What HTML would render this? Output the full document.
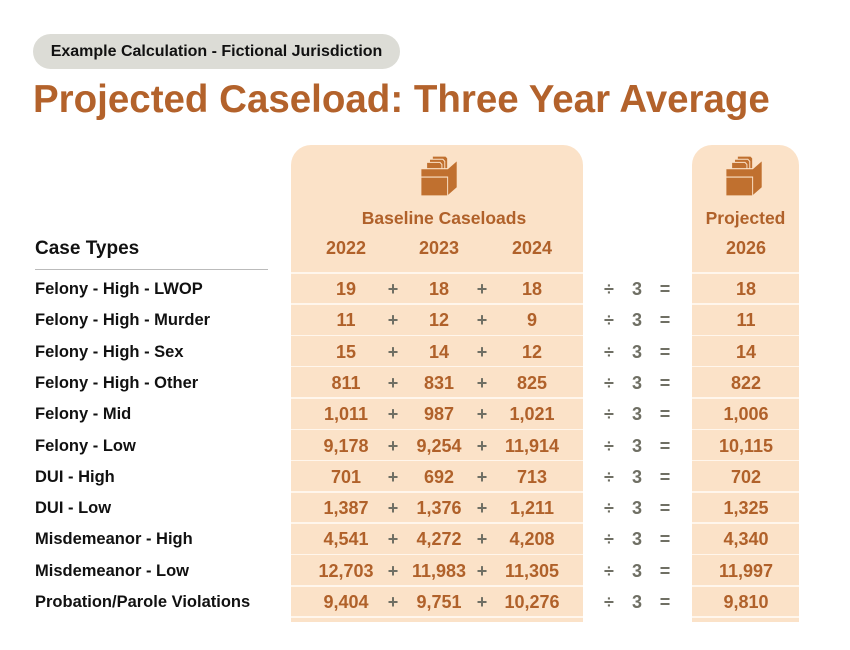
<!DOCTYPE html>
<html><head><meta charset="utf-8">
<style>
body{margin:0;width:850px;height:650px;background:#fff;position:relative;overflow:hidden;font-family:"Liberation Sans",Arial,sans-serif;}
.abs{position:absolute;}
.pill{left:33px;top:34px;width:367px;height:35px;background:#dcdcd6;border-radius:18px;font-weight:bold;font-size:16px;line-height:35px;text-align:center;color:#111;}
.title{left:33px;top:78px;font-size:38.5px;font-weight:bold;color:#b3622b;white-space:nowrap;}
.panel{background:#fbe2c8;border-radius:20px 20px 0 0;}
.hdr{color:#b0612a;font-weight:bold;font-size:17.5px;text-align:center;}
.lbl{left:35px;font-weight:bold;font-size:16.5px;color:#111;white-space:nowrap;}
.num{color:#b0612a;font-weight:bold;font-size:18px;text-align:center;width:100px;margin-left:-50px;}
.op{color:#6f6f64;font-weight:bold;font-size:18px;text-align:center;width:30px;margin-left:-15px;}
.sep{height:1.5px;background:#fff6ec;}
</style></head><body>
<div class="abs pill">Example Calculation - Fictional Jurisdiction</div>
<div class="abs title">Projected Caseload: Three Year Average</div>
<div class="abs panel" style="left:291px;top:145px;width:292px;height:477px"></div>
<div class="abs panel" style="left:692px;top:145px;width:107px;height:477px"></div>
<svg class="abs" style="left:419px;top:154px" width="42" height="44" viewBox="0 0 44 42" preserveAspectRatio="none">
<g fill="#c0702f" stroke="#fbe2c8" stroke-width="1"><path d="M14 2h14l2 2v14H14z"/><path d="M11 5h14l2 2v14H11z"/><path d="M8 8h14l2 2v14H8z"/><path d="M2 14h28l10-8v26l-10 8H2z"/><path d="M2 22h28v18H2z"/></g></svg>
<svg class="abs" style="left:724px;top:154px" width="42" height="44" viewBox="0 0 44 42" preserveAspectRatio="none">
<g fill="#c0702f" stroke="#fbe2c8" stroke-width="1"><path d="M14 2h14l2 2v14H14z"/><path d="M11 5h14l2 2v14H11z"/><path d="M8 8h14l2 2v14H8z"/><path d="M2 14h28l10-8v26l-10 8H2z"/><path d="M2 22h28v18H2z"/></g></svg>
<div class="abs hdr" style="left:291px;width:306px;top:208px">Baseline Caseloads</div>
<div class="abs hdr" style="left:692px;width:107px;top:208px">Projected</div>
<div class="abs lbl" style="top:238px;font-size:19px">Case Types</div>
<div class="abs" style="left:35px;top:269px;width:233px;height:1px;background:#bbb"></div>
<script>
const categories=["Felony - High - LWOP","Felony - High - Murder","Felony - High - Sex","Felony - High - Other","Felony - Mid","Felony - Low","DUI - High","DUI - Low","Misdemeanor - High","Misdemeanor - Low","Probation/Parole Violations"];
const years=["2022","2023","2024"];
const v2022=[19,11,15,811,1011,9178,701,1387,4541,12703,9404];
const v2023=[18,12,14,831,987,9254,692,1376,4272,11983,9751];
const v2024=[18,9,12,825,1021,11914,713,1211,4208,11305,10276];
const projected=[18,11,14,822,1006,10115,702,1325,4340,11997,9810];
const projYear="2026";
const cols=[346,439,532], plusX=[393,482], projX=746;
const top0=272, rowH=31.3;
const root=document.body;
function add(cls,style,txt,name){const d=document.createElement('div');d.className='abs '+cls;d.style.cssText=style;d.textContent=txt;


root.appendChild(d);return d;}
const fmt=n=>n.toLocaleString('en-US');
years.forEach((y,i)=>add('num','left:'+cols[i]+'px;top:238px',y,'year-header-'+y));
add('num','left:'+projX+'px;top:238px',projYear,'year-header-'+projYear);
const series=[v2022,v2023,v2024];
categories.forEach((c,r)=>{
 const t=top0+r*rowH;
 add('sep','left:291px;width:292px;top:'+t+'px','','row-divider');
 add('sep','left:692px;width:107px;top:'+t+'px','','row-divider');
 const ty=t+7;
 add('lbl','top:'+(ty+1)+'px',c,'row-label');
 series.forEach((s,i)=>add('num','left:'+cols[i]+'px;top:'+ty+'px',fmt(s[r]),'value-'+years[i]));
 plusX.forEach(x=>add('op','left:'+x+'px;top:'+ty+'px','+','plus-sign'));
 add('op','left:609px;top:'+ty+'px','÷','divide-sign');
 add('op','left:637px;top:'+ty+'px','3','divisor');
 add('op','left:665px;top:'+ty+'px','=','equals-sign');
 add('num','left:'+projX+'px;top:'+ty+'px',fmt(projected[r]),'projected-value');
});
const tEnd=top0+categories.length*rowH;
add('sep','left:291px;width:292px;top:'+tEnd+'px','','row-divider');
add('sep','left:692px;width:107px;top:'+tEnd+'px','','row-divider');
</script>
</body></html>
